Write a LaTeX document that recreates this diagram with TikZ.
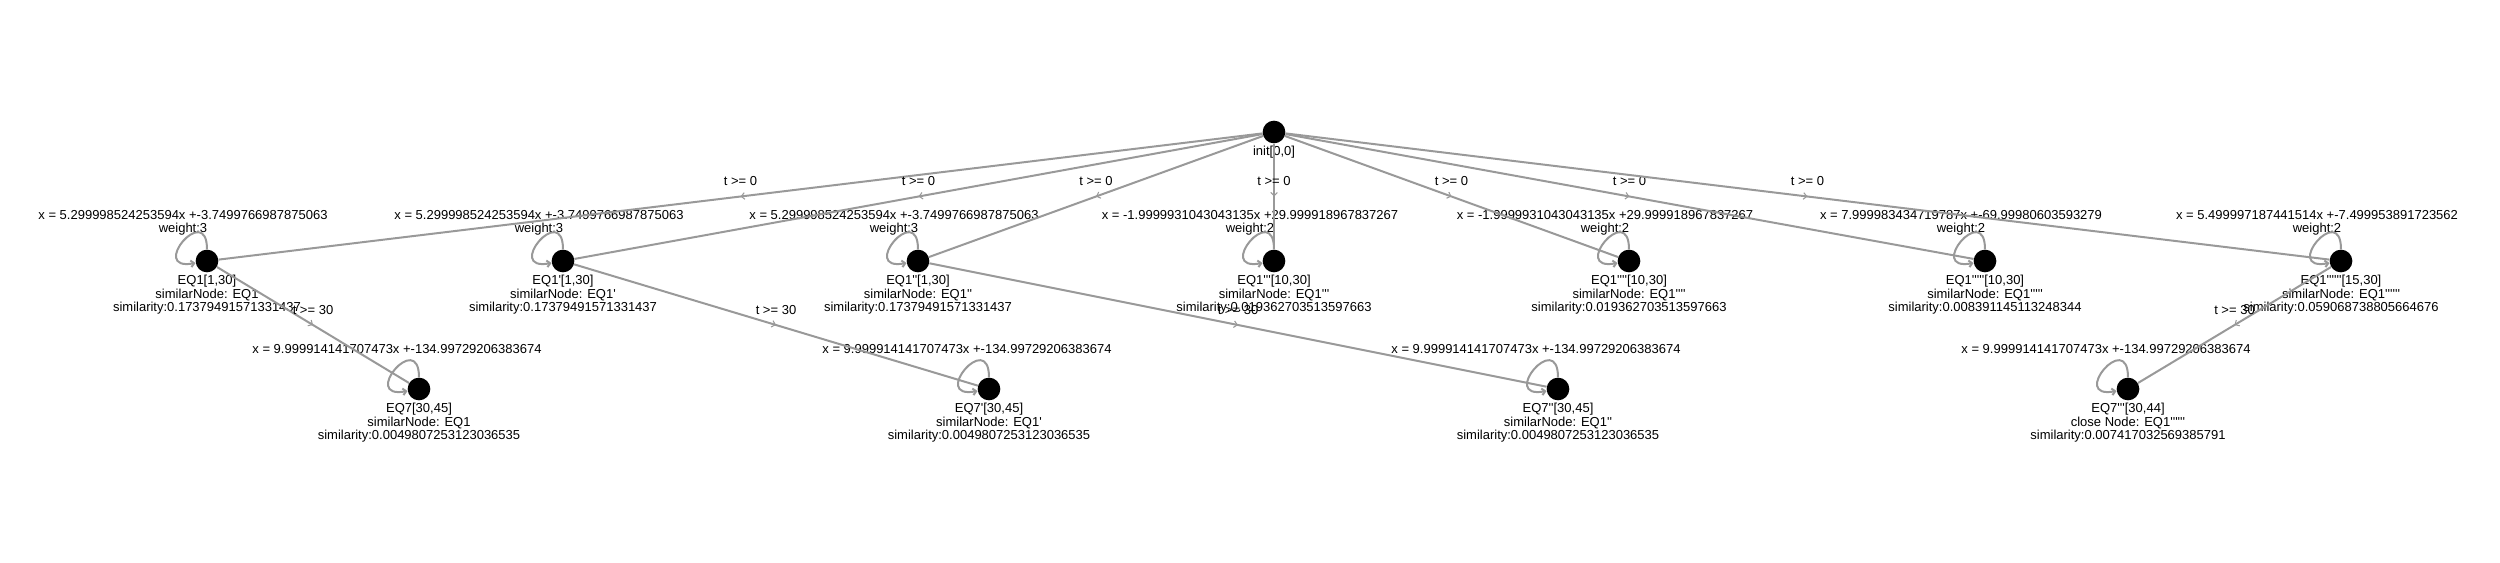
\documentclass[tikz,border=0pt]{standalone}
\usepackage{fontspec}
\setmainfont{Liberation Sans}[Ligatures=TeXOff]
\usetikzlibrary{arrows.meta,decorations.markings}

\definecolor{edgegray}{HTML}{999999}

\begin{document}
\begin{tikzpicture}[x=0.75pt,y=-0.75pt]
  % Estilos
  \tikzset{
    state_node/.style={circle,fill=black,minimum size=17pt,inner sep=0pt},
    trans_edge/.style={edgegray,line width=1.5pt,postaction={decorate},
      decoration={markings,mark=at position 0.5 with {\arrow[line width=0.8pt]{Straight Barb[length=2.5pt,width=5pt]}}}},
    loop_edge/.style={edgegray,line width=1.5pt,-{Straight Barb[length=2.5pt,width=5pt]},out=90,in=190,looseness=7},
    edge_text/.style={text=black,font=\fontsize{9.75}{10}\selectfont,inner sep=0pt,yshift=11.5pt},
    info_text/.style={font=\fontsize{9.75}{10.2}\selectfont,align=center,inner sep=0pt}
  }
  \useasboundingbox (0,0) rectangle (2500,562);

  % Estado inicial
  \node[state_node] (n0) at (1274,132) {};
  \node[info_text] (i0) at (1274,152) {init[0,0]};

  % Primera fila (EQ1)
  \node[state_node] (n1) at (207,261) {};
  \node[state_node] (n2) at (563,261) {};
  \node[state_node] (n3) at (918,261) {};
  \node[state_node] (n4) at (1274,261) {};
  \node[state_node] (n5) at (1629,261) {};
  \node[state_node] (n6) at (1985,261) {};
  \node[state_node] (n7) at (2341,261) {};

  \node[info_text] (w1) at (183,223) {x = 5.299998524253594x +-3.7499766987875063\\weight:3};
  \node[info_text] (w2) at (539,223) {x = 5.299998524253594x +-3.7499766987875063\\weight:3};
  \node[info_text] (w3) at (894,223) {x = 5.299998524253594x +-3.7499766987875063\\weight:3};
  \node[info_text] (w4) at (1250,223) {x = -1.9999931043043135x +29.999918967837267\\weight:2};
  \node[info_text] (w5) at (1605,223) {x = -1.9999931043043135x +29.999918967837267\\weight:2};
  \node[info_text] (w6) at (1961,223) {x = 7.999983434719787x +-69.99980603593279\\weight:2};
  \node[info_text] (w7) at (2317,223) {x = 5.499997187441514x +-7.499953891723562\\weight:2};

  \node[info_text] (i1) at (207,295) {EQ1[1,30]\\similarNode: EQ1\\similarity:0.17379491571331437};
  \node[info_text] (i2) at (563,295) {EQ1'[1,30]\\similarNode: EQ1'\\similarity:0.17379491571331437};
  \node[info_text] (i3) at (918,295) {EQ1''[1,30]\\similarNode: EQ1''\\similarity:0.17379491571331437};
  \node[info_text] (i4) at (1274,295) {EQ1'''[10,30]\\similarNode: EQ1'''\\similarity:0.019362703513597663};
  \node[info_text] (i5) at (1629,295) {EQ1''''[10,30]\\similarNode: EQ1''''\\similarity:0.019362703513597663};
  \node[info_text] (i6) at (1985,295) {EQ1'''''[10,30]\\similarNode: EQ1'''''\\similarity:0.008391145113248344};
  \node[info_text] (i7) at (2341,295) {EQ1''''''[15,30]\\similarNode: EQ1''''''\\similarity:0.059068738805664676};

  % Segunda fila (EQ7)
  \node[state_node] (n8) at (419,389) {};
  \node[state_node] (n9) at (989,389) {};
  \node[state_node] (n10) at (1558,389) {};
  \node[state_node] (n11) at (2128,389) {};

  \node[info_text] (w8) at (397,349) {x = 9.999914141707473x +-134.99729206383674};
  \node[info_text] (w9) at (967,349) {x = 9.999914141707473x +-134.99729206383674};
  \node[info_text] (w10) at (1536,349) {x = 9.999914141707473x +-134.99729206383674};
  \node[info_text] (w11) at (2106,349) {x = 9.999914141707473x +-134.99729206383674};

  \node[info_text] (i8) at (419,423) {EQ7[30,45]\\similarNode: EQ1\\similarity:0.0049807253123036535};
  \node[info_text] (i9) at (989,423) {EQ7'[30,45]\\similarNode: EQ1'\\similarity:0.0049807253123036535};
  \node[info_text] (i10) at (1558,423) {EQ7''[30,45]\\similarNode: EQ1''\\similarity:0.0049807253123036535};
  \node[info_text] (i11) at (2128,423) {EQ7'''[30,44]\\close Node: EQ1''''''\\similarity:0.007417032569385791};

  % Transiciones
  \foreach \to in {n1,n2,n3,n4,n5,n6,n7}
    \draw[trans_edge] (n0) -- node[edge_text] (t\to) {t >= 0} (\to);

  \foreach \from/\to in {n1/n8,n2/n9,n3/n10,n7/n11}
    \draw[trans_edge] (\from) -- node[edge_text] (t\to) {t >= 30} (\to);

  % Lazos
  \foreach \n in {n1,n2,n3,n4,n5,n6,n7,n8,n9,n10,n11}
    \draw[loop_edge] (\n) to (\n);
\end{tikzpicture}
\end{document}
